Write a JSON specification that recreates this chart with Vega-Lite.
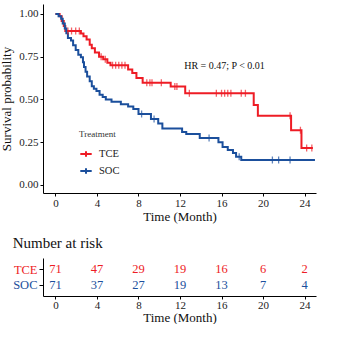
{
  "$schema": "https://vega.github.io/schema/vega-lite/v6.json",
  "padding": {"top": 4, "left": 0, "right": 0, "bottom": 0},
  "background": "white",
  "config": {
    "font": "Liberation Serif",
    "view": {"stroke": null},
    "axis": {"domainColor": "#000000", "tickColor": "#000000", "labelColor": "#222222", "titleColor": "#111111", "grid": false, "labelFont": "Liberation Serif", "titleFont": "Liberation Serif", "titleFontWeight": "normal", "domainWidth": 1, "tickWidth": 1}
  },
  "spacing": 13,
  "resolve": {"scale": {"color": "independent"}},
  "datasets": {
    "curves": [
      {"time": 0, "surv": 1.0, "group": "TCE"},
      {"time": 0.4, "surv": 0.986, "group": "TCE"},
      {"time": 0.6, "surv": 0.958, "group": "TCE"},
      {"time": 0.8, "surv": 0.93, "group": "TCE"},
      {"time": 0.95, "surv": 0.9, "group": "TCE"},
      {"time": 2.45, "surv": 0.886, "group": "TCE"},
      {"time": 2.7, "surv": 0.87, "group": "TCE"},
      {"time": 3.0, "surv": 0.85, "group": "TCE"},
      {"time": 3.3, "surv": 0.82, "group": "TCE"},
      {"time": 3.5, "surv": 0.8, "group": "TCE"},
      {"time": 3.8, "surv": 0.775, "group": "TCE"},
      {"time": 4.2, "surv": 0.75, "group": "TCE"},
      {"time": 4.6, "surv": 0.735, "group": "TCE"},
      {"time": 5.0, "surv": 0.715, "group": "TCE"},
      {"time": 5.3, "surv": 0.7, "group": "TCE"},
      {"time": 7.0, "surv": 0.675, "group": "TCE"},
      {"time": 7.4, "surv": 0.655, "group": "TCE"},
      {"time": 7.8, "surv": 0.626, "group": "TCE"},
      {"time": 8.4, "surv": 0.598, "group": "TCE"},
      {"time": 11.1, "surv": 0.575, "group": "TCE"},
      {"time": 12.5, "surv": 0.536, "group": "TCE"},
      {"time": 19.1, "surv": 0.468, "group": "TCE"},
      {"time": 19.5, "surv": 0.404, "group": "TCE"},
      {"time": 22.7, "surv": 0.32, "group": "TCE"},
      {"time": 23.7, "surv": 0.216, "group": "TCE"},
      {"time": 24.8, "surv": 0.216, "group": "TCE"},
      {"time": 0, "surv": 1.0, "group": "SOC"},
      {"time": 0.3, "surv": 0.986, "group": "SOC"},
      {"time": 0.55, "surv": 0.972, "group": "SOC"},
      {"time": 0.7, "surv": 0.944, "group": "SOC"},
      {"time": 0.9, "surv": 0.915, "group": "SOC"},
      {"time": 1.05, "surv": 0.887, "group": "SOC"},
      {"time": 1.2, "surv": 0.859, "group": "SOC"},
      {"time": 1.5, "surv": 0.845, "group": "SOC"},
      {"time": 1.7, "surv": 0.817, "group": "SOC"},
      {"time": 1.95, "surv": 0.789, "group": "SOC"},
      {"time": 2.2, "surv": 0.761, "group": "SOC"},
      {"time": 2.45, "surv": 0.746, "group": "SOC"},
      {"time": 2.65, "surv": 0.718, "group": "SOC"},
      {"time": 2.75, "surv": 0.69, "group": "SOC"},
      {"time": 2.9, "surv": 0.662, "group": "SOC"},
      {"time": 3.05, "surv": 0.634, "group": "SOC"},
      {"time": 3.3, "surv": 0.606, "group": "SOC"},
      {"time": 3.5, "surv": 0.577, "group": "SOC"},
      {"time": 3.7, "surv": 0.563, "group": "SOC"},
      {"time": 3.95, "surv": 0.549, "group": "SOC"},
      {"time": 4.25, "surv": 0.528, "group": "SOC"},
      {"time": 4.55, "surv": 0.514, "group": "SOC"},
      {"time": 4.85, "surv": 0.5, "group": "SOC"},
      {"time": 5.4, "surv": 0.486, "group": "SOC"},
      {"time": 6.3, "surv": 0.472, "group": "SOC"},
      {"time": 7.0, "surv": 0.458, "group": "SOC"},
      {"time": 7.5, "surv": 0.444, "group": "SOC"},
      {"time": 8.0, "surv": 0.415, "group": "SOC"},
      {"time": 9.2, "surv": 0.385, "group": "SOC"},
      {"time": 9.9, "surv": 0.36, "group": "SOC"},
      {"time": 10.3, "surv": 0.33, "group": "SOC"},
      {"time": 12.2, "surv": 0.31, "group": "SOC"},
      {"time": 12.6, "surv": 0.298, "group": "SOC"},
      {"time": 13.9, "surv": 0.275, "group": "SOC"},
      {"time": 15.7, "surv": 0.25, "group": "SOC"},
      {"time": 16.1, "surv": 0.222, "group": "SOC"},
      {"time": 16.6, "surv": 0.205, "group": "SOC"},
      {"time": 17.1, "surv": 0.187, "group": "SOC"},
      {"time": 17.4, "surv": 0.165, "group": "SOC"},
      {"time": 17.9, "surv": 0.146, "group": "SOC"},
      {"time": 25.0, "surv": 0.146, "group": "SOC"}
    ],
    "censors": [
      {"time": 1.2, "surv": 0.9, "group": "TCE"},
      {"time": 1.55, "surv": 0.9, "group": "TCE"},
      {"time": 1.95, "surv": 0.9, "group": "TCE"},
      {"time": 2.3, "surv": 0.9, "group": "TCE"},
      {"time": 4.4, "surv": 0.75, "group": "TCE"},
      {"time": 4.8, "surv": 0.735, "group": "TCE"},
      {"time": 5.5, "surv": 0.7, "group": "TCE"},
      {"time": 5.8, "surv": 0.7, "group": "TCE"},
      {"time": 6.1, "surv": 0.7, "group": "TCE"},
      {"time": 6.4, "surv": 0.7, "group": "TCE"},
      {"time": 6.7, "surv": 0.7, "group": "TCE"},
      {"time": 8.8, "surv": 0.598, "group": "TCE"},
      {"time": 9.1, "surv": 0.598, "group": "TCE"},
      {"time": 9.3, "surv": 0.598, "group": "TCE"},
      {"time": 10.2, "surv": 0.598, "group": "TCE"},
      {"time": 11.5, "surv": 0.575, "group": "TCE"},
      {"time": 11.7, "surv": 0.575, "group": "TCE"},
      {"time": 12.9, "surv": 0.536, "group": "TCE"},
      {"time": 15.5, "surv": 0.536, "group": "TCE"},
      {"time": 16.0, "surv": 0.536, "group": "TCE"},
      {"time": 16.3, "surv": 0.536, "group": "TCE"},
      {"time": 16.6, "surv": 0.536, "group": "TCE"},
      {"time": 16.9, "surv": 0.536, "group": "TCE"},
      {"time": 17.9, "surv": 0.536, "group": "TCE"},
      {"time": 18.3, "surv": 0.536, "group": "TCE"},
      {"time": 22.6, "surv": 0.404, "group": "TCE"},
      {"time": 23.6, "surv": 0.32, "group": "TCE"},
      {"time": 24.2, "surv": 0.216, "group": "TCE"},
      {"time": 24.7, "surv": 0.216, "group": "TCE"},
      {"time": 8.3, "surv": 0.415, "group": "SOC"},
      {"time": 9.5, "surv": 0.385, "group": "SOC"},
      {"time": 14.8, "surv": 0.275, "group": "SOC"},
      {"time": 17.7, "surv": 0.165, "group": "SOC"},
      {"time": 20.9, "surv": 0.146, "group": "SOC"},
      {"time": 21.5, "surv": 0.146, "group": "SOC"},
      {"time": 22.6, "surv": 0.146, "group": "SOC"}
    ],
    "annot": [
      {"time": 12.4, "surv": 0.696, "label": "HR = 0.47; P < 0.01"}
    ],
    "risk": [
      {"time": 0, "group": "TCE", "n": 71},
      {"time": 4, "group": "TCE", "n": 47},
      {"time": 8, "group": "TCE", "n": 29},
      {"time": 12, "group": "TCE", "n": 19},
      {"time": 16, "group": "TCE", "n": 16},
      {"time": 20, "group": "TCE", "n": 6},
      {"time": 24, "group": "TCE", "n": 2},
      {"time": 0, "group": "SOC", "n": 71},
      {"time": 4, "group": "SOC", "n": 37},
      {"time": 8, "group": "SOC", "n": 27},
      {"time": 12, "group": "SOC", "n": 19},
      {"time": 16, "group": "SOC", "n": 13},
      {"time": 20, "group": "SOC", "n": 7},
      {"time": 24, "group": "SOC", "n": 4}
    ]
  },
  "vconcat": [
    {
      "width": 273,
      "height": 189,
      "encoding": {
        "x": {"field": "time", "type": "quantitative", "scale": {"domain": [-1.2, 25.1], "nice": false, "zero": false}, "axis": {"values": [0, 4, 8, 12, 16, 20, 24], "title": "Time (Month)", "titleFontSize": 13, "labelFontSize": 11, "tickSize": 3, "labelPadding": 1, "titlePadding": 2}},
        "y": {"field": "surv", "type": "quantitative", "scale": {"domain": [-0.047, 1.058], "nice": false, "zero": false}, "axis": {"values": [0, 0.25, 0.5, 0.75, 1], "format": ".2f", "title": "Survival probability", "titleFontSize": 13, "labelFontSize": 11, "tickSize": 3, "labelPadding": 2, "titlePadding": 5}}
      },
      "layer": [
        {
          "data": {"name": "curves"},
          "mark": {"type": "line", "interpolate": "step-after", "strokeWidth": 2},
          "encoding": {
            "color": {"field": "group", "type": "nominal", "scale": {"domain": ["TCE", "SOC"], "range": ["#ee1c25", "#1b4f9c"]},
              "legend": {"title": "Treatment", "orient": "none", "legendX": 36, "legendY": 126, "titleFontSize": 9, "titleFontWeight": "normal", "titleColor": "#333333", "titlePadding": 8, "labelFontSize": 10.5, "labelColor": "#222222", "symbolType": "M-1,0H1M0,-0.5V0.5", "symbolSize": 130, "symbolStrokeWidth": 2, "rowPadding": 3, "labelOffset": 6}}
          }
        },
        {
          "data": {"name": "censors"},
          "mark": {"type": "tick", "orient": "vertical", "size": 7, "thickness": 1.3},
          "encoding": {
            "color": {"field": "group", "type": "nominal", "legend": null}
          }
        },
        {
          "data": {"name": "annot"},
          "mark": {"type": "text", "align": "left", "baseline": "middle", "fontSize": 10, "color": "#111111"},
          "encoding": {"text": {"field": "label"}}
        }
      ]
    },
    {
      "width": 273,
      "height": 38,
      "data": {"name": "risk"},
      "title": {"text": "Number at risk", "anchor": "start", "fontSize": 15, "fontWeight": "normal", "color": "#111111", "offset": 7},
      "mark": {"type": "text", "fontSize": 12.5, "baseline": "middle"},
      "encoding": {
        "x": {"field": "time", "type": "quantitative", "scale": {"domain": [-1.2, 25.1], "nice": false, "zero": false}, "axis": {"values": [0, 4, 8, 12, 16, 20, 24], "title": "Time (Month)", "titleFontSize": 13, "labelFontSize": 11, "tickSize": 3, "labelPadding": 0, "titlePadding": 1}},
        "y": {"field": "group", "type": "nominal", "scale": {"type": "point", "domain": ["TCE", "SOC"], "padding": 0.7}, "axis": {"title": null, "labelFontSize": 12.5, "tickSize": 4, "labelPadding": 2, "labelColor": {"condition": {"test": "datum.value === 'TCE'", "value": "#ee1c25"}, "value": "#1b4f9c"}}},
        "text": {"field": "n", "type": "quantitative"},
        "color": {"condition": {"test": "datum.group === 'TCE'", "value": "#ee1c25"}, "value": "#1b4f9c"}
      }
    }
  ]
}
